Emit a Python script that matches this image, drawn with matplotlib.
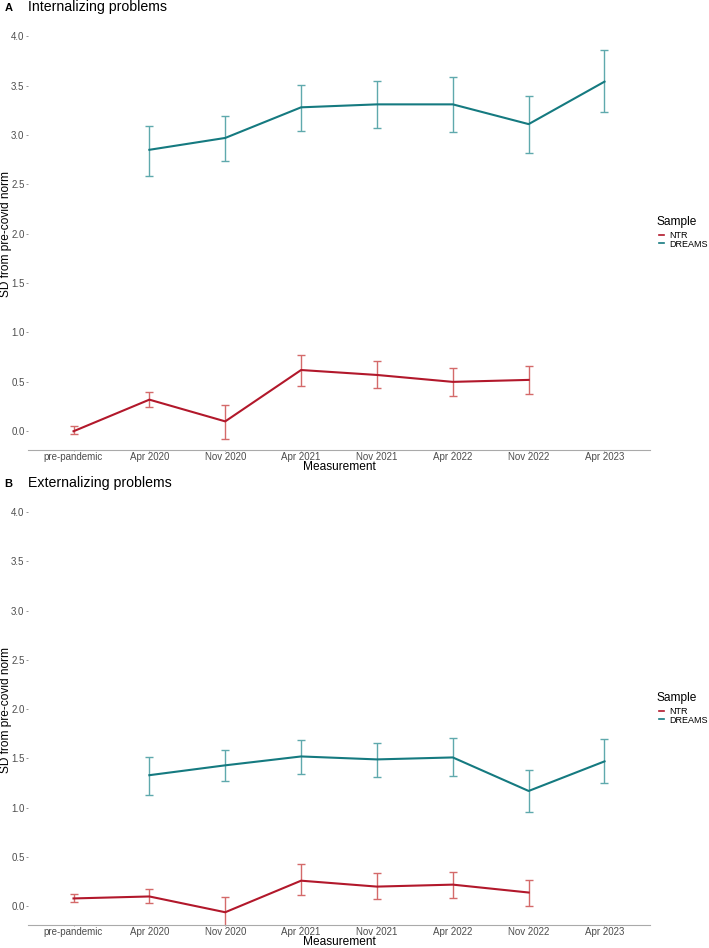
import numpy as np
import matplotlib
matplotlib.use("Agg")
import matplotlib.pyplot as plt
from matplotlib.lines import Line2D

plt.rcParams["font.family"] = ["Liberation Sans", "DejaVu Sans"]

waves = ["pre-pandemic", "Apr 2020", "Nov 2020", "Apr 2021", "Nov 2021",
         "Apr 2022", "Nov 2022", "Apr 2023"]

# Internalizing problems
int_ntr = [0.00, 0.32, 0.10, 0.62, 0.57, 0.50, 0.52]
int_ntr_lo = [-0.03, 0.25, -0.08, 0.46, 0.44, 0.36, 0.38]
int_ntr_hi = [0.05, 0.40, 0.27, 0.77, 0.71, 0.64, 0.66]
int_dreams = [2.85, 2.97, 3.28, 3.31, 3.31, 3.11, 3.54]
int_dreams_lo = [2.58, 2.74, 3.04, 3.07, 3.03, 2.82, 3.23]
int_dreams_hi = [3.09, 3.19, 3.51, 3.55, 3.59, 3.39, 3.86]

# Externalizing problems
ext_ntr = [0.08, 0.10, -0.06, 0.26, 0.20, 0.22, 0.14]
ext_ntr_lo = [0.04, 0.03, -0.22, 0.11, 0.07, 0.08, 0.00]
ext_ntr_hi = [0.12, 0.18, 0.09, 0.43, 0.34, 0.35, 0.27]
ext_dreams = [1.33, 1.43, 1.52, 1.49, 1.51, 1.17, 1.47]
ext_dreams_lo = [1.13, 1.27, 1.34, 1.31, 1.32, 0.96, 1.25]
ext_dreams_hi = [1.51, 1.59, 1.69, 1.66, 1.71, 1.38, 1.70]

ntr_col = "#b2182b"
ntr_err = "#d46a6a"
dr_col = "#157a80"
dr_err = "#5fa9ad"

ntr_x = np.arange(1, 8)
dr_x = np.arange(2, 9)

fig = plt.figure(figsize=(7.09, 9.48), dpi=100)


def panel(rect, letter, title, ntr, ntr_lo, ntr_hi, dr, dr_lo, dr_hi, leg_y):
    ax = fig.add_axes(rect)
    for x, y, lo, hi, c, ec in [(ntr_x, ntr, ntr_lo, ntr_hi, ntr_col, ntr_err),
                                (dr_x, dr, dr_lo, dr_hi, dr_col, dr_err)]:
        y = np.array(y)
        err = [y - np.array(lo), np.array(hi) - y]
        ax.errorbar(x, y, yerr=err, fmt="none", ecolor=ec, elinewidth=1.0,
                    capsize=2.8, capthick=1.0, zorder=2)
        ax.plot(x, y, color=c, lw=1.5, zorder=3)
    ax.set_xlim(0.4, 8.6)
    ax.set_ylim(-0.19, 4.05)
    ax.set_xticks(np.arange(1, 9))
    ax.set_xticklabels(waves)
    ax.set_yticks(np.arange(0, 4.01, 0.5))
    ax.set_yticklabels([f"{v:.1f}" for v in np.arange(0, 4.01, 0.5)])
    for s in ["top", "right", "left"]:
        ax.spines[s].set_visible(False)
    ax.spines["bottom"].set_color("#aaaaaa")
    ax.spines["bottom"].set_linewidth(0.8)
    ax.tick_params(axis="y", length=1.5, width=0.6, color="#888888",
                   labelsize=7, labelcolor="#4d4d4d", pad=1)
    ax.tick_params(axis="x", length=1.0, width=0.6, color="#888888",
                   labelsize=7, labelcolor="#4d4d4d", pad=0.5)
    ax.set_xlabel("Measurement", fontsize=8.6, labelpad=-0.6)
    ax.set_ylabel("SD from pre-covid norm", fontsize=8.6)
    ax.yaxis.set_label_coords(-0.0255, 0.515)
    ax.text(-0.038, 1.055, letter, transform=ax.transAxes, fontsize=8,
            fontweight="bold", va="center", ha="left")
    ax.text(0.0, 1.057, title, transform=ax.transAxes, fontsize=10.2,
            va="center", ha="left")
    fig.text(0.926, leg_y, "Sample", fontsize=8.6, va="center", ha="left")
    handles = [Line2D([], [], color=ntr_col, lw=1.2),
               Line2D([], [], color=dr_col, lw=1.2)]
    fig.legend(handles, ["NTR", "DREAMS"], loc="upper left",
               bbox_to_anchor=(0.929, leg_y - 9 / 948), frameon=False,
               fontsize=6.5, handlelength=0.6, handletextpad=0.6,
               labelspacing=-0.05, borderaxespad=0, borderpad=0)
    return ax


panel([0.0395, 0.5253, 0.8773, 0.4417], "A", "Internalizing problems",
      int_ntr, int_ntr_lo, int_ntr_hi, int_dreams, int_dreams_lo, int_dreams_hi,
      1 - 222 / 948)
panel([0.0395, 0.0242, 0.8773, 0.4410], "B", "Externalizing problems",
      ext_ntr, ext_ntr_lo, ext_ntr_hi, ext_dreams, ext_dreams_lo, ext_dreams_hi,
      1 - 698 / 948)

fig.savefig("out.png", dpi=100, facecolor="white")
